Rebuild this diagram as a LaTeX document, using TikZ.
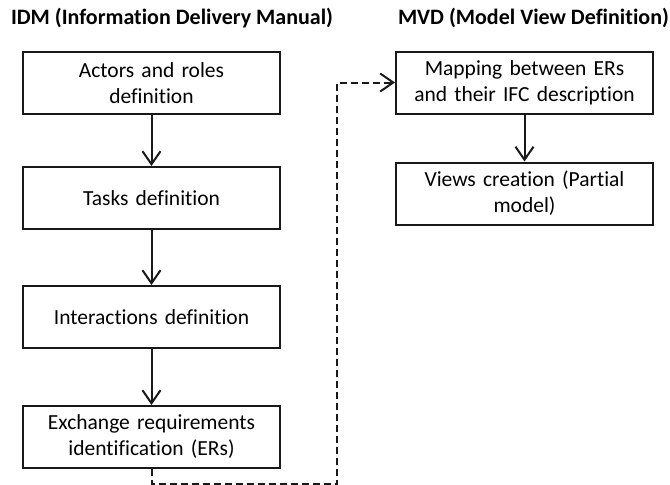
\documentclass[tikz,border=0pt]{standalone}
\usepackage{fontspec}
\setmainfont{Carlito}[Ligatures=NoCommon]
\usepackage{tikz}
\usetikzlibrary{arrows.meta,positioning}

\begin{document}
\begin{tikzpicture}[->,>={Straight Barb[length=13pt,width=18pt]},x=1pt,y=1pt,
                    node distance=54pt,line width=2pt,draw=black!90]
  \tikzstyle{stage}=[rectangle,draw,minimum width=257pt,minimum height=62pt,align=center,text width=250pt,font=\fontsize{21.5}{26}\selectfont]
  \tikzstyle{heading}=[anchor=west,inner sep=0pt,font=\fontsize{22}{26}\selectfont\bfseries]

  \useasboundingbox (0,0) rectangle (670,-485);

  % titles
  \node[heading] (idm) at (10,-18)  {IDM (Information Delivery Manual)};
  \node[heading] (mvd) at (397,-18) {MVD (Model View Definition)};

  % IDM column
  \node[stage] (actors) at (151.5,-83)  {Actors and roles\\definition};
  \node[stage] (tasks)  [below=51pt of actors] {Tasks definition};
  \node[stage] (inter)  [below=55pt of tasks]  {Interactions definition};
  \node[stage] (exch)   [below=56pt of inter]  {Exchange requirements\\identification (ERs)};

  % MVD column
  \node[stage] (mapping) at (524.5,-82.5) {Mapping between ERs\\and their IFC description};
  \node[stage] (views)   [below=47pt of mapping] {Views creation (Partial\\model)};

  \draw (actors) -- (tasks);
  \draw (tasks) -- (inter);
  \draw (inter) -- (exch);
  \draw (mapping) -- (views);
  \draw[dash pattern=on 7pt off 4pt] (exch.south) -- ++(0,-15pt) -| ([xshift=-58pt]mapping.west) -- (mapping.west);
\end{tikzpicture}
\end{document}
